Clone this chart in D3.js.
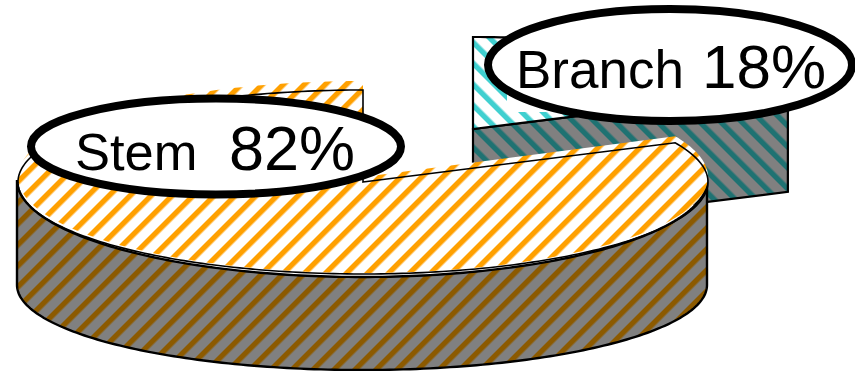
<!DOCTYPE html>
<html>
<head>
<meta charset="utf-8">
<style>
html,body{margin:0;padding:0;background:#fff;overflow:hidden}
svg{display:block}
text{font-family:"Liberation Sans",Arial,sans-serif;fill:#000}
</style>
<script src="https://cdnjs.cloudflare.com/ajax/libs/d3/7.8.5/d3.min.js"></script>
</head>
<body>
<svg id="chart" width="855" height="371"></svg>
<script>
// Share of each plant part, in percent
const categories = ["Branch", "Stem"];
const shares = [18, 82];

const width = 855, height = 371;
const svg = d3.select("#chart");
const defs = svg.append("defs");

// Diagonal stripe fills for the slice tops and walls
function stripes(id, angle, bg, fg, offset) {
  const period = 14.85, band = 5.4;
  const p = defs.append("pattern")
    .attr("id", id)
    .attr("patternUnits", "userSpaceOnUse")
    .attr("width", period).attr("height", period)
    .attr("patternTransform", `translate(${offset},0) rotate(${angle})`);
  p.append("rect").attr("width", period).attr("height", period).attr("fill", bg);
  p.append("rect").attr("width", band).attr("height", period).attr("fill", fg);
}
stripes("stemTop", 45, "#fff", "#ffa000", 7);
stripes("stemWall", 45, "#808080", "#8c5a00", 7);
stripes("branchTop", -45, "#fff", "#40d0d0", 7);
stripes("branchWall", -45, "#808080", "#1f7272", 7);

// Slice angles, clockwise from the top of the pie
const pie = d3.pie().sort(null).value(d => d).startAngle(0).endAngle(2 * Math.PI);
const [branchSlice, stemSlice] = pie(shares);

// An ellipse seen in perspective, as scales from unit-circle coordinates to pixels
function disc(cx, cy, rx, ry) {
  return {
    x: d3.scaleLinear().domain([-1, 1]).range([cx - rx, cx + rx]),
    y: d3.scaleLinear().domain([-1, 1]).range([cy + ry, cy - ry])
  };
}
function rim(d, a0, a1) {
  const n = Math.max(2, Math.ceil(Math.abs(a1 - a0) / 0.02));
  return d3.range(n + 1).map(i => {
    const a = a0 + (a1 - a0) * i / n;
    return [d.x(Math.sin(a)), d.y(Math.cos(a))];
  });
}
const closed = d3.line().curve(d3.curveLinearClosed);
const apex = d => [d.x(0), d.y(0)];
const wedge = (d, s) => [apex(d), ...rim(d, s.startAngle, s.endAngle)];

// Exploded branch slice
const branchDisc = disc(473, 129, 348, 92);
const branchDepth = 102;
const cutTop = rim(branchDisc, branchSlice.endAngle, branchSlice.endAngle)[0];
svg.append("path")
  .attr("d", closed([apex(branchDisc), cutTop,
    [cutTop[0], cutTop[1] + branchDepth],
    [apex(branchDisc)[0], apex(branchDisc)[1] + branchDepth]]))
  .attr("fill", "url(#branchWall)").attr("stroke", "#000").attr("stroke-width", 2.2);
svg.append("path")
  .attr("d", closed(wedge(branchDisc, branchSlice)))
  .attr("fill", "url(#branchTop)").attr("stroke", "#000").attr("stroke-width", 2.2);

// Patch of the branch top left unstriped beside its label
svg.append("rect").attr("x", 507).attr("y", 84).attr("width", 70).attr("height", 28).attr("fill", "#fff");

// Stem slice: the front wall between the upper and lower rims
const wallTop = disc(362, 180, 345, 97);
const wallBottom = disc(362, 285, 345, 85);
const front = [Math.PI * 0.5, Math.PI * 1.5];
svg.append("path")
  .attr("d", closed([...rim(wallTop, front[0], front[1]), ...rim(wallBottom, front[1], front[0])]))
  .attr("fill", "url(#stemWall)").attr("stroke", "#000").attr("stroke-width", 2.4);

// Stem top: striped face, sitting slightly above its outline
const stemFace = disc(363, 177, 345, 96);
svg.append("path")
  .attr("d", closed(wedge(stemFace, stemSlice)))
  .attr("fill", "url(#stemTop)");
const stemEdge = disc(363, 182, 345, 92);
svg.append("path")
  .attr("d", closed(wedge(stemEdge, stemSlice)))
  .attr("fill", "none").attr("stroke", "#000").attr("stroke-width", 1.6);

// Callouts
const callouts = [
  { cx: 216, cy: 146.5, rx: 185, ry: 48, nameX: 75, valueX: 229, base: 170, nameSize: 52.5, valueSize: 63, i: 1 },
  { cx: 670, cy: 65, rx: 182, ry: 56, nameX: 516, valueX: 702, base: 88, nameSize: 53, valueSize: 62, i: 0 }
];
callouts.forEach(c => {
  svg.append("ellipse")
    .attr("cx", c.cx).attr("cy", c.cy).attr("rx", c.rx).attr("ry", c.ry)
    .attr("fill", "#fff").attr("stroke", "#000").attr("stroke-width", 8);
  svg.append("text").attr("x", c.nameX).attr("y", c.base)
    .attr("font-size", c.nameSize).text(categories[c.i]);
  svg.append("text").attr("x", c.valueX).attr("y", c.base)
    .attr("font-size", c.valueSize).text(`${shares[c.i]}%`);
});
</script>
</body>
</html>
